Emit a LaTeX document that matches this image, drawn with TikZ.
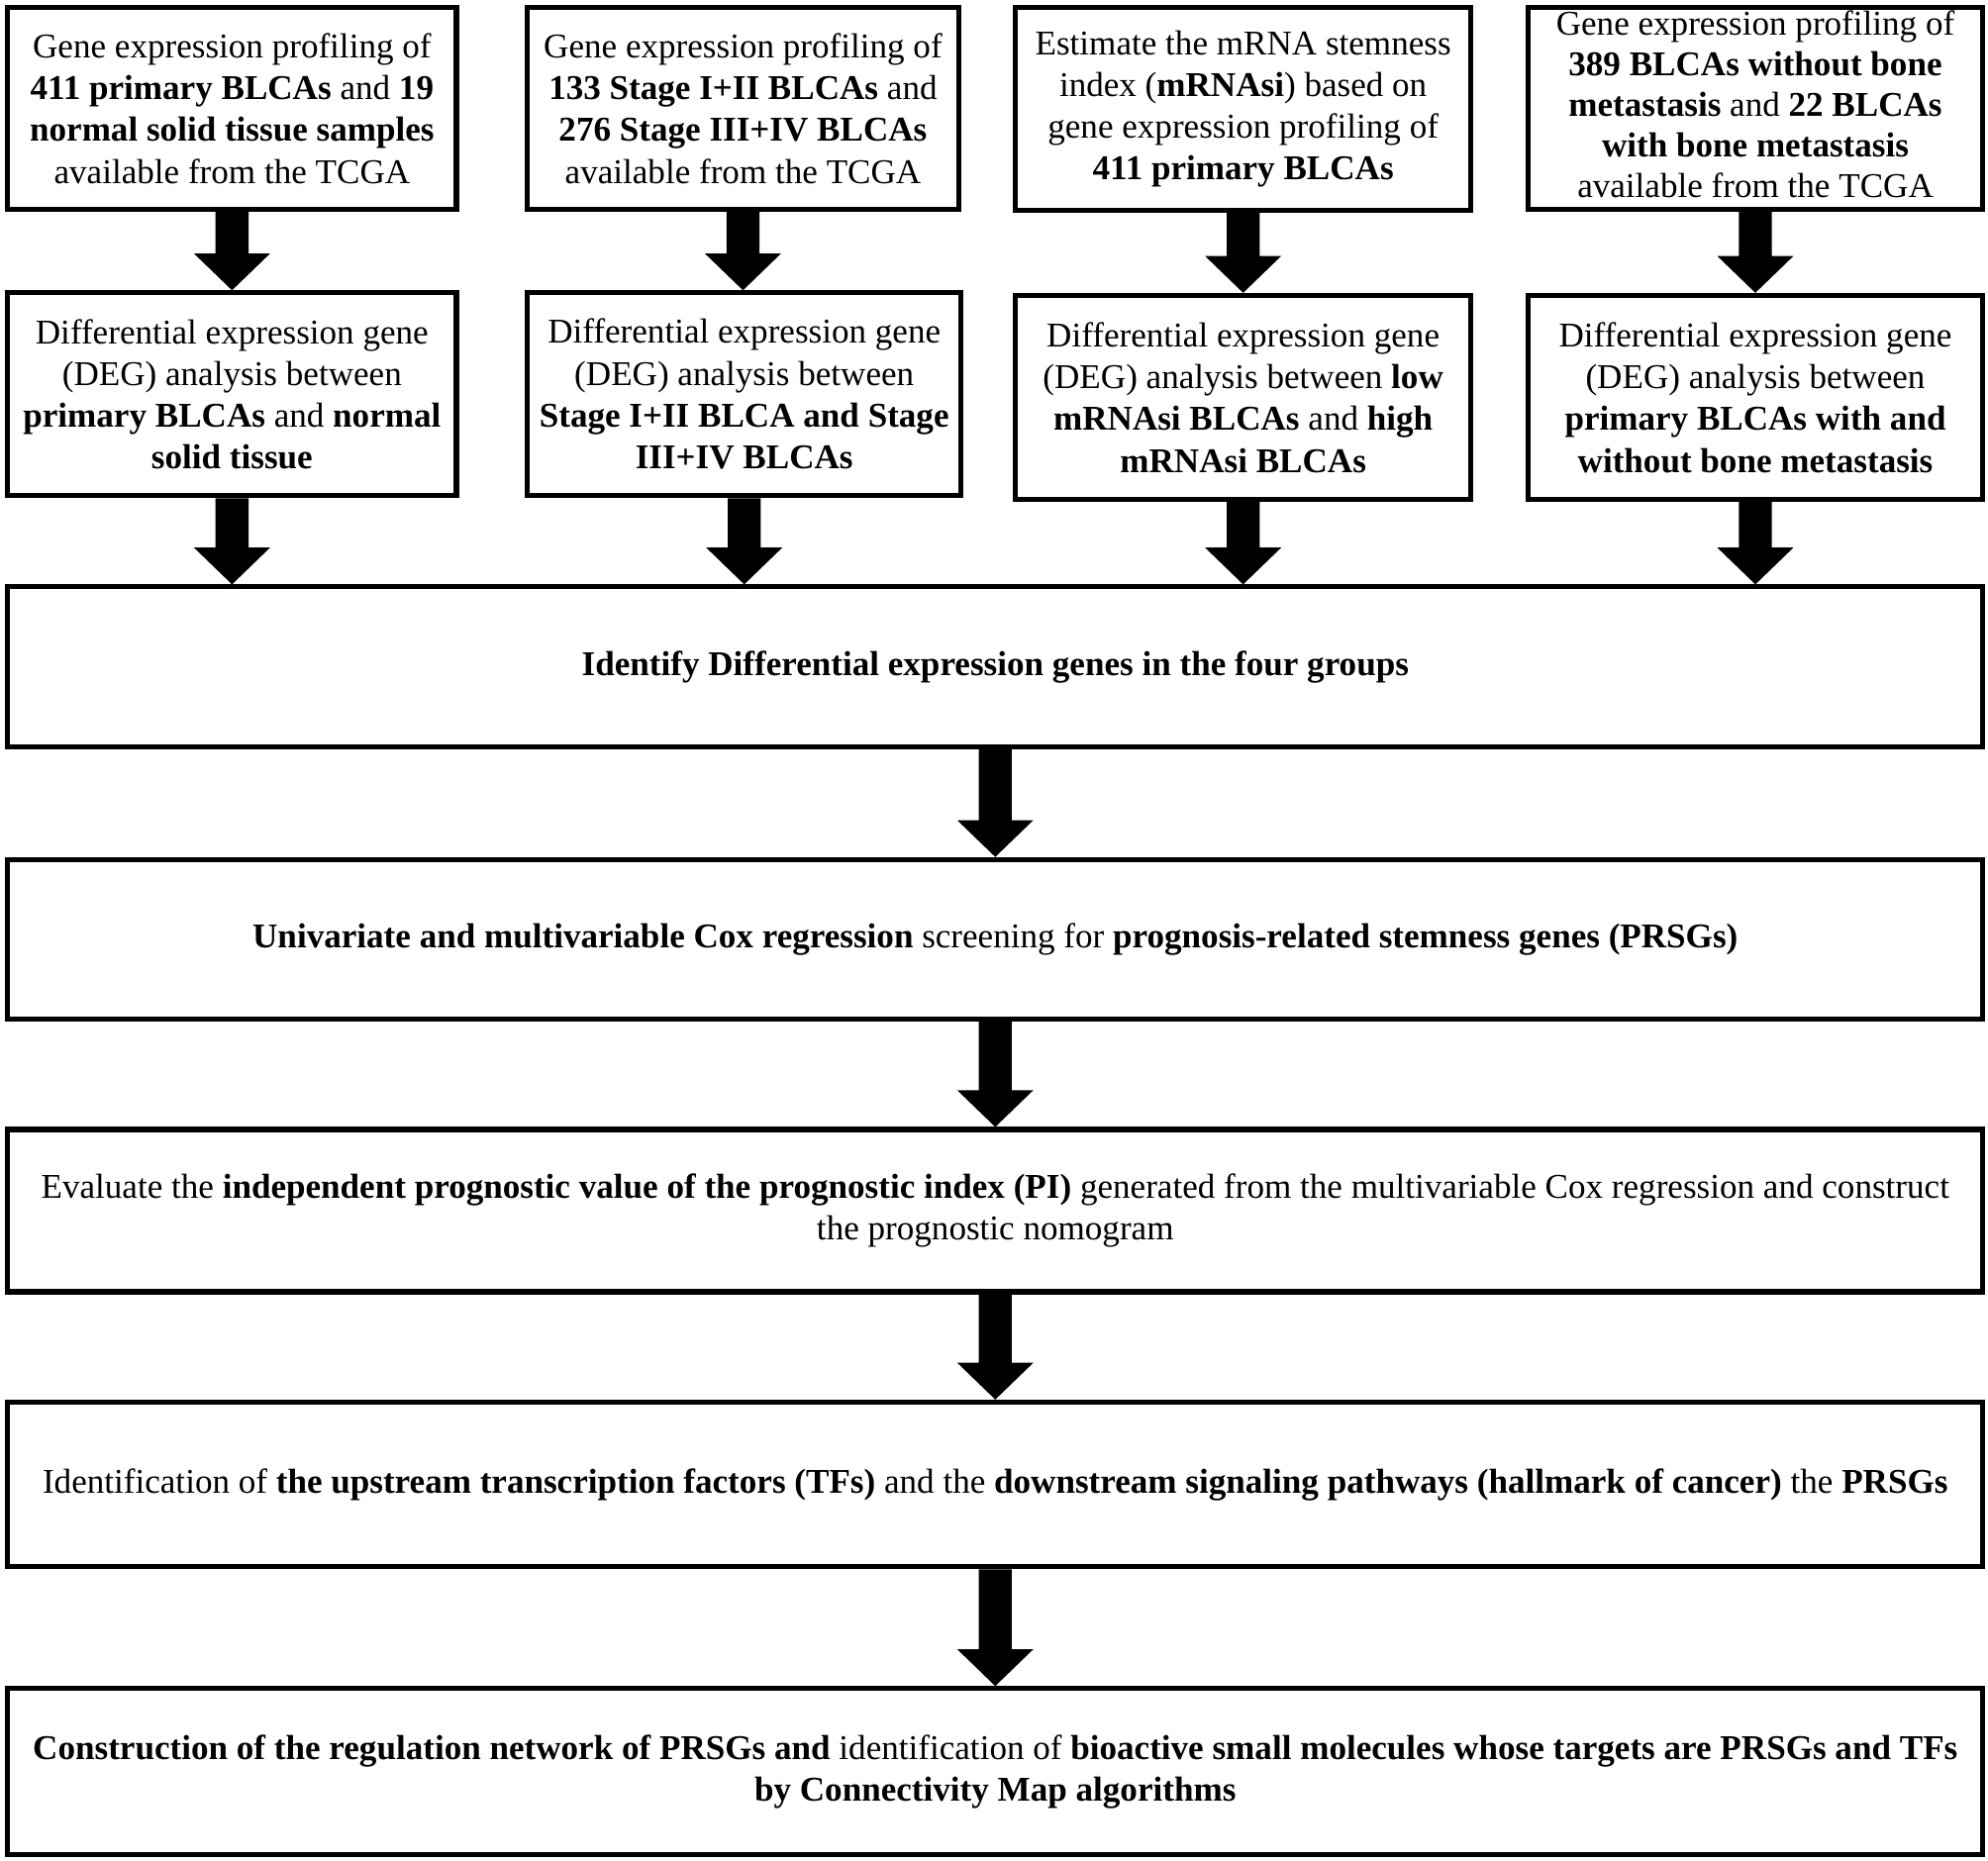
\documentclass[tikz,border=0pt]{standalone}
\usepackage{fontspec}
\setmainfont{Liberation Serif}
\usetikzlibrary{calc}
\tikzset{
  box/.style={draw, line width=2pt, rectangle, align=center, inner sep=0pt,
    font=\fontsize{13.7}{16.5}\selectfont},
  boxtext/.style={align=center, inner sep=0pt, font=\fontsize{13.7}{16}\selectfont},
}
\newcommand\dnarrow[2]{%
  \fill let \p1=(#1), \p2=(#2) in
    (\x1-6.5pt,\y1) -- (\x1+6.5pt,\y1) -- (\x1+6.5pt,\y2+14.5pt) --
    (\x1+15pt,\y2+14.5pt) -- (\x1,\y2) -- (\x1-15pt,\y2+14.5pt) --
    (\x1-6.5pt,\y2+14.5pt) -- cycle;}
\begin{document}
\begin{tikzpicture}[x=0.5pt,y=-0.5pt]
\useasboundingbox (0,0) rectangle (1568,1468);
% row 1
\node[box, minimum width=177pt, minimum height=79.5pt] (A1) at (183,85.5)
  {Gene expression profiling of\\\textbf{411 primary BLCAs} and \textbf{19}\\\textbf{normal solid tissue samples}\\available from the TCGA};
\node[box, minimum width=170pt, minimum height=79.5pt] (B1) at (586,85.5)
  {Gene expression profiling of\\\textbf{133 Stage I+II BLCAs} and\\\textbf{276 Stage III+IV BLCAs}\\available from the TCGA};
\node[box, minimum width=179.5pt, minimum height=80pt] (C1) at (980.5,86)
  {Estimate the mRNA stemness\\index (\textbf{mRNAsi}) based on\\gene expression profiling of\\\textbf{411 primary BLCAs}};
\node[box, minimum width=179.5pt, minimum height=79.5pt] (D1) at (1384.5,85.5) {};
\node[boxtext] (D1t) at ([yshift=1.5pt]D1.center)
  {Gene expression profiling of\\\textbf{389 BLCAs without bone}\\\textbf{metastasis} and \textbf{22 BLCAs}\\\textbf{with bone metastasis}\\available from the TCGA};
% row 2
\node[box, minimum width=177pt, minimum height=80pt] (A2) at (183,311)
  {Differential expression gene\\(DEG) analysis between\\\textbf{primary BLCAs} and \textbf{normal}\\\textbf{solid tissue}};
\node[box, minimum width=171pt, minimum height=80pt] (B2) at (587,311)
  {Differential expression gene\\(DEG) analysis between\\\textbf{Stage I+II BLCA and Stage}\\\textbf{III+IV BLCAs}};
\node[box, minimum width=179.5pt, minimum height=80.5pt] (C2) at (980.5,313.5)
  {Differential expression gene\\(DEG) analysis between \textbf{low}\\\textbf{mRNAsi BLCAs} and \textbf{high}\\\textbf{mRNAsi BLCAs}};
\node[box, minimum width=179.5pt, minimum height=80.5pt] (D2) at (1384.5,313.5)
  {Differential expression gene\\(DEG) analysis between\\\textbf{primary BLCAs with and}\\\textbf{without bone metastasis}};
% wide boxes
\node[box, minimum width=779pt, minimum height=63pt] (E1) at (785,526)
  {\textbf{Identify Differential expression genes in the four groups}};
\node[box, minimum width=779pt, minimum height=63pt] (E2) at (785,741)
  {\textbf{Univariate and multivariable Cox regression} screening for \textbf{prognosis-related stemness genes (PRSGs)}};
\node[box, minimum width=779pt, minimum height=64pt] (E3) at (785,955)
  {Evaluate the \textbf{independent prognostic value of the prognostic index (PI)} generated from the multivariable Cox regression and construct\\the prognostic nomogram};
\node[box, minimum width=779pt, minimum height=65pt] (E4) at (785,1171)
  {Identification of \textbf{the upstream transcription factors (TFs)} and the \textbf{downstream signaling pathways (hallmark of cancer)} the \textbf{PRSGs}};
\node[box, minimum width=779pt, minimum height=65.5pt] (E5) at (785,1397.5)
  {\textbf{Construction of the regulation network of PRSGs and} identification of \textbf{bioactive small molecules whose targets are PRSGs and TFs}\\\textbf{by Connectivity Map algorithms}};
% arrows
\dnarrow{A1.south}{A2.north}
\dnarrow{B1.south}{B1.south |- B2.north}
\dnarrow{C1.south}{C2.north}
\dnarrow{D1.south}{D2.north}
\dnarrow{A2.south}{A2.south |- E1.north}
\dnarrow{B2.south}{B2.south |- E1.north}
\dnarrow{C2.south}{C2.south |- E1.north}
\dnarrow{D2.south}{D2.south |- E1.north}
\dnarrow{E1.south}{E2.north}
\dnarrow{E2.south}{E3.north}
\dnarrow{E3.south}{E4.north}
\dnarrow{E4.south}{E5.north}
\end{tikzpicture}
\end{document}
